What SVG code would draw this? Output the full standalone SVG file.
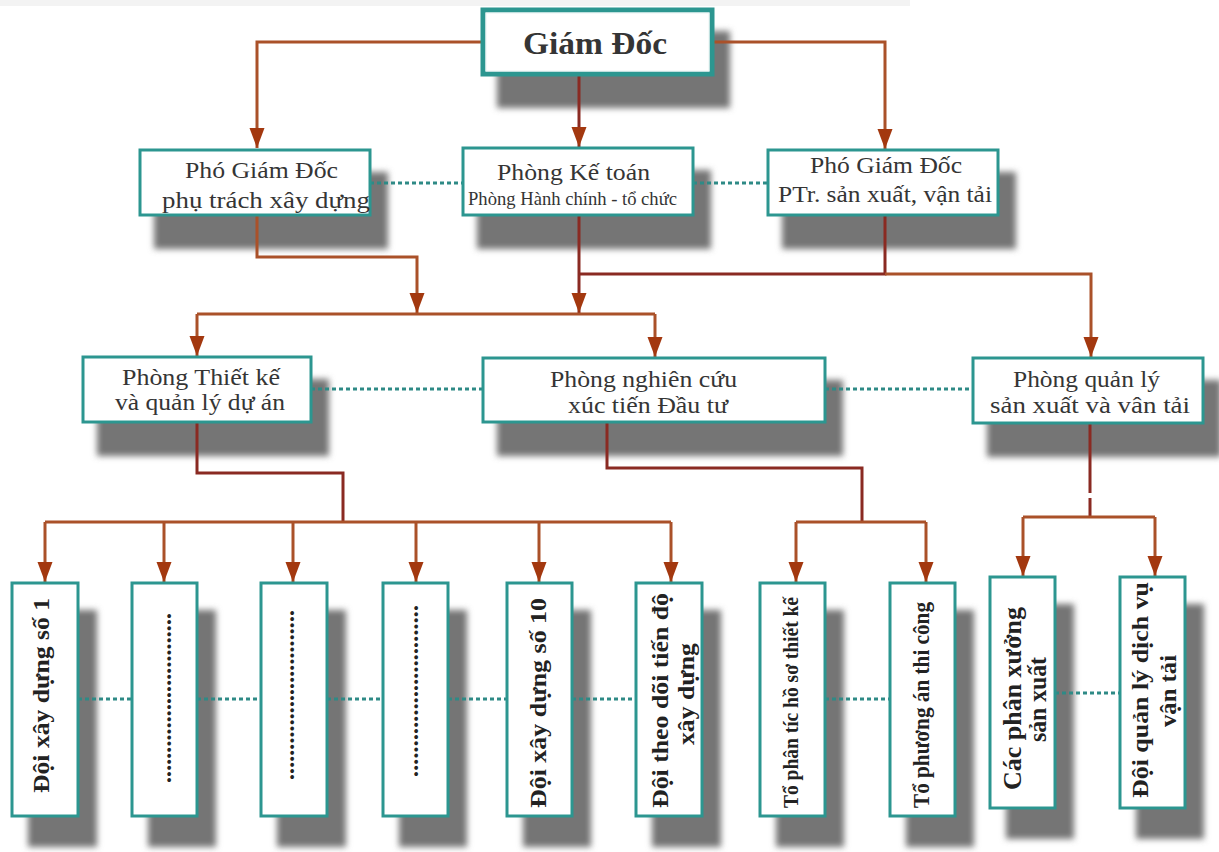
<svg xmlns="http://www.w3.org/2000/svg" width="1219" height="852" viewBox="0 0 1219 852">
<defs>
<marker id="arr" markerUnits="userSpaceOnUse" markerWidth="20" markerHeight="16" refX="20" refY="8" orient="auto">
<path d="M0,0.5 L20,8 L0,15.5 z" fill="#a3380f"/>
</marker>
<filter id="blur" x="-20%" y="-20%" width="140%" height="140%"><feGaussianBlur stdDeviation="3"/></filter>
<style>
.sh{fill:#747474;filter:url(#blur)}
.box{fill:#fff;stroke:#2c9690;stroke-width:3}
.t{font-family:"Liberation Serif","Times New Roman",serif;fill:#353535;font-size:24px;text-anchor:middle}
.b{font-family:"Liberation Serif","Times New Roman",serif;fill:#222;font-weight:bold;font-size:24px;text-anchor:middle}
.ln{fill:none;stroke:#aa5129;stroke-width:3}
.st{fill:none;stroke:#8a2a22;stroke-width:3}
.ar{marker-end:url(#arr)}
.dt{fill:none;stroke:#2e8a86;stroke-width:3;stroke-dasharray:4 3}
</style>
</defs>
<rect x="0" y="0" width="910" height="6" fill="#f3f3f3"/>
<g id="shadows">
<rect class="sh" x="497" y="31" width="233" height="77"/>
<rect class="sh" x="154" y="172" width="234" height="77"/>
<rect class="sh" x="477" y="170" width="234" height="79"/>
<rect class="sh" x="782" y="172" width="234" height="77"/>
<rect class="sh" x="97" y="379" width="232" height="77"/>
<rect class="sh" x="497" y="380" width="346" height="76"/>
<rect class="sh" x="987" y="380" width="234" height="77"/>
<rect class="sh" x="28" y="610" width="69" height="237"/>
<rect class="sh" x="148" y="610" width="68" height="237"/>
<rect class="sh" x="277" y="610" width="69" height="237"/>
<rect class="sh" x="399" y="610" width="68" height="237"/>
<rect class="sh" x="523" y="610" width="68" height="237"/>
<rect class="sh" x="652" y="610" width="69" height="237"/>
<rect class="sh" x="776" y="610" width="68" height="237"/>
<rect class="sh" x="906" y="610" width="68" height="237"/>
<rect class="sh" x="1006" y="604" width="68" height="235"/>
<rect class="sh" x="1136" y="604" width="68" height="235"/>
</g>
<g id="connectors">
<path class="ln ar" d="M483,42 H257 V148"/>
<path class="ln ar" d="M712,42 H885 V149"/>
<path class="st ar" d="M579,74 V147"/>
<path class="ln ar" d="M257,215 V257 H417 V313"/>
<path class="st ar" d="M579,215 V313"/>
<path class="st" d="M885,215 V274 H579"/>
<path class="ln ar" d="M885,274 H1091 V357"/>
<path class="ln" d="M197,314 H655"/>
<path class="ln ar" d="M197,314 V356"/>
<path class="ln ar" d="M655,314 V357"/>
<path class="st" d="M197,422 V473 H343 V522"/>
<path class="ln" d="M45,522 H671"/>
<path class="ln ar" d="M45,522 V582"/>
<path class="ln ar" d="M164,522 V582"/>
<path class="ln ar" d="M293,522 V582"/>
<path class="ln ar" d="M416,522 V582"/>
<path class="ln ar" d="M539,522 V582"/>
<path class="ln ar" d="M671,522 V582"/>
<path class="st" d="M607,422 V468 H862 V522"/>
<path class="ln" d="M796,522 H926"/>
<path class="ln ar" d="M796,522 V582"/>
<path class="ln ar" d="M926,522 V582"/>
<path class="st" d="M1090,423 V493 M1090,498 V517"/>
<path class="ln" d="M1023,517 H1155"/>
<path class="ln ar" d="M1023,517 V576"/>
<path class="ln ar" d="M1155,517 V576"/>
<path class="dt" d="M370,183 H463 M693,183 H768"/>
<path class="dt" d="M311,389 H483 M825,389 H973"/>
<path class="dt" d="M78,699 H132 M197,699 H261 M327,699 H383 M448,699 H507 M572,699 H636 M825,699 H890 M1055,693 H1120"/>
</g>
<g id="giam-doc">
<rect x="483" y="10" width="229" height="64" fill="#fff" stroke="#2c9690" stroke-width="5"/>
<rect x="486" y="13" width="223" height="58" fill="none" stroke="#e8f4f3" stroke-width="1"/>
<text class="t" x="595" y="54" style="font-weight:bold;font-size:32px" textLength="144" lengthAdjust="spacingAndGlyphs">Giám Đốc</text>
</g>
<g id="pgd-xay-dung">
<rect class="box" x="140" y="150" width="230" height="65"/>
<text class="t" x="261.5" y="178" textLength="153" lengthAdjust="spacingAndGlyphs">Phó Giám Đốc</text>
<text class="t" x="266" y="208" textLength="208" lengthAdjust="spacingAndGlyphs">phụ trách xây dựng</text>
</g>
<g id="phong-ke-toan">
<rect class="box" x="463" y="148" width="230" height="67"/>
<text class="t" x="573.5" y="180" textLength="153" lengthAdjust="spacingAndGlyphs">Phòng Kế toán</text>
<text class="t" x="572.5" y="205" style="font-size:19px" textLength="209" lengthAdjust="spacingAndGlyphs">Phòng Hành chính - tổ chức</text>
</g>
<g id="pgd-san-xuat">
<rect class="box" x="768" y="150" width="230" height="65"/>
<text class="t" x="886" y="173" textLength="152" lengthAdjust="spacingAndGlyphs">Phó Giám Đốc</text>
<text class="t" x="885" y="202" textLength="214" lengthAdjust="spacingAndGlyphs">PTr. sản xuất, vận tải</text>
</g>
<g id="phong-thiet-ke">
<rect class="box" x="83" y="357" width="228" height="65"/>
<text class="t" x="201" y="385" textLength="158" lengthAdjust="spacingAndGlyphs">Phòng Thiết kế</text>
<text class="t" x="200" y="410" textLength="170" lengthAdjust="spacingAndGlyphs">và quản lý dự án</text>
</g>
<g id="phong-nghien-cuu">
<rect class="box" x="483" y="358" width="342" height="64"/>
<text class="t" x="643.5" y="387" textLength="187" lengthAdjust="spacingAndGlyphs">Phòng nghiên cứu</text>
<text class="t" x="648" y="413" textLength="160" lengthAdjust="spacingAndGlyphs">xúc tiến Đầu tư</text>
</g>
<g id="phong-quan-ly">
<rect class="box" x="973" y="358" width="230" height="65"/>
<text class="t" x="1086.5" y="387" textLength="147" lengthAdjust="spacingAndGlyphs">Phòng quản lý</text>
<text class="t" x="1090" y="413" textLength="200" lengthAdjust="spacingAndGlyphs">sản xuất và vân tải</text>
</g>
<g id="doi-1">
<rect class="box" x="12" y="583" width="66" height="233"/>
<text class="b" transform="translate(49,695.5) rotate(-90)" textLength="195" lengthAdjust="spacingAndGlyphs">Đội xây dựng số 1</text>
</g>
<g id="doi-2">
<rect class="box" x="132" y="583" width="65" height="233"/>
<text class="b" transform="translate(171,698) rotate(-90)" textLength="170" lengthAdjust="spacing">............................</text>
</g>
<g id="doi-3">
<rect class="box" x="261" y="583" width="66" height="233"/>
<text class="b" transform="translate(294,695) rotate(-90)" textLength="170" lengthAdjust="spacing">............................</text>
</g>
<g id="doi-4">
<rect class="box" x="383" y="583" width="65" height="233"/>
<text class="b" transform="translate(418,691) rotate(-90)" textLength="172" lengthAdjust="spacing">............................</text>
</g>
<g id="doi-10">
<rect class="box" x="507" y="583" width="65" height="233"/>
<text class="b" transform="translate(546,703) rotate(-90)" textLength="210" lengthAdjust="spacingAndGlyphs">Đội xây dựng số 10</text>
</g>
<g id="doi-theo-doi">
<rect class="box" x="636" y="583" width="66" height="233"/>
<text class="b" transform="translate(668,700.5) rotate(-90)" textLength="215" lengthAdjust="spacingAndGlyphs">Đội theo dõi tiến độ</text>
<text class="b" transform="translate(694,694) rotate(-90)" textLength="102" lengthAdjust="spacingAndGlyphs">xây dựng</text>
</g>
<g id="to-phan-tic">
<rect class="box" x="760" y="583" width="65" height="233"/>
<text class="b" transform="translate(798,702.5) rotate(-90)" style="font-size:21px" textLength="211" lengthAdjust="spacingAndGlyphs">Tổ phân tíc hồ sơ thiết kế</text>
</g>
<g id="to-phuong-an">
<rect class="box" x="890" y="583" width="65" height="233"/>
<text class="b" transform="translate(929,705) rotate(-90)" style="font-size:23px" textLength="206" lengthAdjust="spacingAndGlyphs">Tổ phương án thi công</text>
</g>
<g id="phan-xuong">
<rect class="box" x="990" y="577" width="65" height="231"/>
<text class="b" transform="translate(1021,698.5) rotate(-90)" style="font-size:25px" textLength="183" lengthAdjust="spacingAndGlyphs">Các phân xưởng</text>
<text class="b" transform="translate(1046,699.5) rotate(-90)" style="font-size:25px" textLength="85" lengthAdjust="spacingAndGlyphs">sản xuất</text>
</g>
<g id="doi-van-tai">
<rect class="box" x="1120" y="577" width="65" height="231"/>
<text class="b" transform="translate(1148,690) rotate(-90)" textLength="216" lengthAdjust="spacingAndGlyphs">Đội quản lý dịch vụ</text>
<text class="b" transform="translate(1176,691) rotate(-90)" textLength="72" lengthAdjust="spacingAndGlyphs">vận tải</text>
</g>
</svg>
